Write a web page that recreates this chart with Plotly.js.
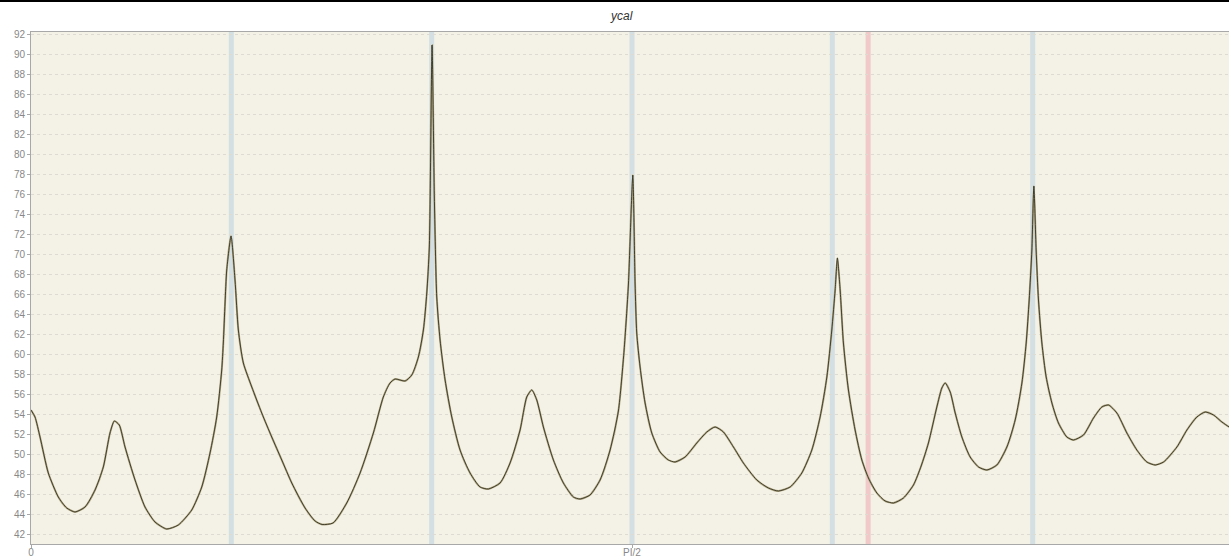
<!DOCTYPE html>
<html>
<head>
<meta charset="utf-8">
<script src="https://cdn.plot.ly/plotly-3.0.1.min.js"></script>
<style>
html,body{margin:0;padding:0;background:#fff;overflow:hidden;width:1229px;height:557px;}
#topbar{position:absolute;left:0;top:0;width:1229px;height:2px;background:#000;z-index:5;}
#chart{position:absolute;left:0;top:0;}
</style>
</head>
<body>
<div id="topbar"></div>
<div id="chart"></div>
<script>
// angle in degrees (0..180 = 0..PI)
const angleDeg = [0,0.60,1.35,2.59,4.09,5.35,6.59,8.09,9.59,10.83,11.83,12.48,13.22,14.08,15.58,17.07,18.57,20.32,22.06,24.07,25.57,26.81,27.81,28.56,28.80,29.06,29.31,29.96,30.55,31.05,31.80,33.06,34.55,36.05,37.55,39.05,41.04,42.54,43.59,45.23,47.28,49.28,51.27,52.76,53.77,54.52,56.02,57.02,58.01,58.76,59.27,59.65,60.06,60.40,60.76,61.26,62.01,63.01,64.25,65.75,67.25,68.49,70.24,71.74,73.24,74.24,74.99,75.74,76.73,78.23,79.73,81.22,82.23,83.72,85.22,86.72,87.96,88.82,89.46,90.12,90.46,90.71,91.21,91.96,92.96,94.21,95.45,96.45,97.95,99.70,101.20,102.45,103.69,105.19,106.68,108.69,110.43,111.93,113.68,115.43,116.93,118.17,119.18,119.92,120.42,120.76,121.17,121.66,122.41,123.41,124.42,125.41,126.67,127.91,129.15,130.65,132.15,133.30,134.39,135.65,136.40,136.90,137.65,138.40,139.40,140.64,141.89,143.15,144.64,146.14,147.38,148.39,149.03,149.48,149.88,150.18,150.52,150.87,151.38,152.02,152.88,153.86,155.12,156.11,157.61,159.11,160.36,161.35,162.61,164.11,165.60,167.10,168.35,169.60,171.60,173.10,174.59,175.84,177.08,178.34,179.43,180];
const ycal = [54.4,53.7,51.7,48.1,45.7,44.6,44.2,44.7,46.4,48.7,52.1,53.3,52.9,50.7,47.4,44.7,43.2,42.5,42.9,44.4,46.7,50.1,53.7,58.4,61.1,65.1,68.4,71.8,67.4,62.4,59.1,56.7,54.1,51.7,49.4,47.1,44.6,43.3,42.95,43.1,45.1,48.1,52.1,55.7,57.1,57.5,57.3,57.9,59.7,62.4,66.1,70.7,90.9,75.7,65.7,61.4,57.4,53.7,50.4,48.1,46.7,46.5,47.1,49.1,52.4,55.7,56.4,55.4,52.7,49.4,47.1,45.7,45.5,45.9,47.4,50.4,54.3,60.4,66.9,77.9,67.1,62.1,58.7,55.1,52.1,50.2,49.4,49.2,49.7,51.1,52.2,52.7,52.2,50.7,49.1,47.4,46.6,46.3,46.7,48.1,50.4,53.7,57.7,62.4,66.4,69.6,66.4,61.1,56.4,52.4,49.4,47.6,46.1,45.3,45.1,45.6,46.9,48.8,51.1,54.7,56.6,57.1,56.2,54.1,51.7,49.7,48.7,48.4,48.9,50.7,53.4,57.1,61.1,65.4,70.4,76.8,70.4,65.4,61.1,57.7,55.1,53.1,51.7,51.4,51.9,53.6,54.7,54.9,54.1,52.1,50.4,49.2,48.9,49.2,50.7,52.4,53.7,54.2,53.9,53.2,52.7,52.5];
const bandAngles = [30,60,90,120,150];
const markerAngle = [125.36];
const xTickVals = [0,90];
const xTickText = ["0","PI/2"];
const yTickVals = [42,44,46,48,50,52,54,56,58,60,62,64,66,68,70,72,74,76,78,80,82,84,86,88,90,92];

const shapes = [];
bandAngles.forEach(a => shapes.push({type:'line', xref:'x', yref:'paper', x0:a, x1:a, y0:0, y1:1,
  line:{color:'rgba(205,220,226,0.85)', width:5}, layer:'below'}));
markerAngle.forEach(a => shapes.push({type:'line', xref:'x', yref:'paper', x0:a, x1:a, y0:0, y1:1,
  line:{color:'rgba(240,196,196,0.9)', width:5}, layer:'below'}));

const traces = [
  {x:angleDeg, y:ycal, type:'scatter', mode:'lines', line:{color:'#b3ab8a', width:2, shape:'spline', smoothing:0.6}, hoverinfo:'skip', showlegend:false},
  {x:angleDeg, y:ycal, type:'scatter', mode:'lines', line:{color:'#36321f', width:0.9, shape:'spline', smoothing:0.6}, name:'ycal', showlegend:false}
];

const layout = {
  width:1236, height:557,
  margin:{l:31, r:3, t:32, b:13},
  paper_bgcolor:'#ffffff',
  plot_bgcolor:'#f4f2e6',
  font:{family:'Liberation Sans, Arial, sans-serif', size:10, color:'#777'},
  title:{text:'<i>ycal</i>', x:0.503, xanchor:'center', y:0.972, yanchor:'middle', font:{family:'Liberation Sans, Arial, sans-serif', size:12, color:'#333'}},
  xaxis:{range:[0,180], tickmode:'array', tickvals:xTickVals, ticktext:xTickText, showgrid:false, zeroline:false,
    showline:true, linecolor:'#a8a8a8', linewidth:1, mirror:true, ticks:'outside', ticklen:3, tickcolor:'#a8a8a8',
    ticklabelstandoff:-4, tickfont:{size:10, color:'#888'}},
  yaxis:{range:[41,92.2], tickmode:'array', tickvals:yTickVals, showgrid:true, gridcolor:'#dedcd2', griddash:'3px,3px', gridwidth:1,
    zeroline:false, showline:true, linecolor:'#a8a8a8', linewidth:1, mirror:true, ticks:'outside', ticklen:3, tickcolor:'#a8a8a8',
    tickfont:{size:10, color:'#888'}},
  shapes:shapes
};
Plotly.newPlot('chart', traces, layout, {displayModeBar:false, staticPlot:true});
</script>
</body>
</html>
